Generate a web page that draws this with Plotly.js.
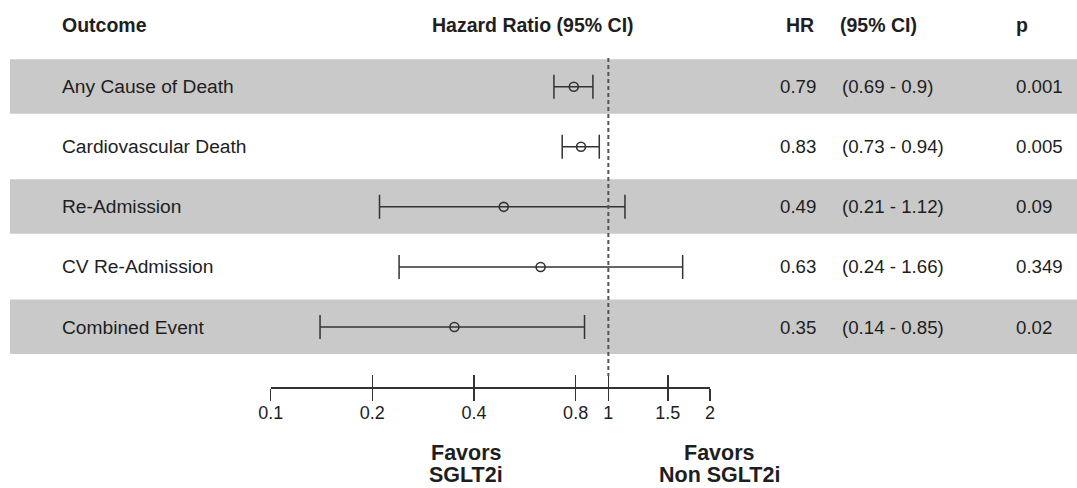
<!DOCTYPE html>
<html>
<head>
<meta charset="utf-8">
<script src="https://cdn.plot.ly/plotly-3.0.1.min.js"></script>
<style>
html,body{margin:0;padding:0;background:#fff;}
#chart{width:1077px;height:488px;}
</style>
</head>
<body>
<div id="chart"></div>
<script>
// ---- data ----
const outcomes = ["Any Cause of Death", "Cardiovascular Death", "Re-Admission", "CV Re-Admission", "Combined Event"];
const hr = [0.79, 0.83, 0.49, 0.63, 0.35];
const ciLow = [0.69, 0.73, 0.21, 0.24, 0.14];
const ciHigh = [0.9, 0.94, 1.12, 1.66, 0.85];
const pValues = ["0.001", "0.005", "0.09", "0.349", "0.02"];
const tickValues = [0.1, 0.2, 0.4, 0.8, 1, 1.5, 2];
const tickLabels = ["0.1", "0.2", "0.4", "0.8", "1", "1.5", "2"];
const headers = {outcome: "Outcome", hrci: "Hazard Ratio (95% CI)", hr: "HR", ci: "(95% CI)", p: "p"};
const favorsLeft = ["Favors", "SGLT2i"];
const favorsRight = ["Favors", "Non SGLT2i"];
const refLine = 1;

// ---- layout helpers ----
const W = 1077, H = 488;
const px = v => v / W;            // pixel x -> paper
const py = v => 1 - v / H;        // pixel y -> paper
const rowIdx = outcomes.map((_, i) => i);

// log-axis geometry: 0.1 at 270.7px, 337.65 px per decade
const x0px = 270.7, perDec = 337.65;
const xr = [-1 - x0px / perDec, -1 + (W - x0px) / perDec];
// rows: first at 86.7px, pitch 60.08px
const r0 = 86.7, pitch = 60.08;
const yr = [(H - r0) / pitch, -r0 / pitch];

const FONT = "Liberation Sans, Arial, Helvetica, sans-serif";
const txt = "#1e1e1e";

const traces = [
  {
    type: "scatter", mode: "markers",
    x: hr, y: rowIdx, xaxis: "x", yaxis: "y",
    marker: {symbol: "circle-open", size: 9, color: "#333", line: {width: 1.6, color: "#333"}},
    error_x: {
      type: "data", symmetric: false,
      array: ciHigh.map((v, i) => v - hr[i]),
      arrayminus: hr.map((v, i) => v - ciLow[i]),
      color: "#333", thickness: 1.5, width: 12
    },
    hoverinfo: "skip", showlegend: false
  },
  {type: "scatter", mode: "markers", x: [1], y: [0], xaxis: "x2", yaxis: "y",
   marker: {opacity: 0}, hoverinfo: "skip", showlegend: false},
  {type: "scatter", mode: "markers", x: [1], y: [0], xaxis: "x3", yaxis: "y",
   marker: {opacity: 0}, hoverinfo: "skip", showlegend: false}
];

const shapes = [];
rowIdx.forEach(i => {
  if (i % 2 === 0) {
    shapes.push({type: "rect", xref: "paper", yref: "y", x0: px(10), x1: 1,
      y0: i - 27.5 / pitch, y1: i + 27 / pitch,
      fillcolor: "#c9c9c9", line: {width: 0}, layer: "below"});
  }
});
shapes.push({type: "line", xref: "x", yref: "paper", x0: refLine, x1: refLine,
  y0: py(58), y1: py(376), line: {color: "#555", width: 2, dash: "4px,3px"}});

const annotations = [];
const ann = (o) => annotations.push(Object.assign({showarrow: false, xanchor: "left", yanchor: "middle"}, o));
// headers
const hf = {family: FONT, size: 19.5, color: txt};
ann({text: "<b>" + headers.outcome + "</b>", xref: "paper", yref: "paper", x: px(60), y: py(25), font: hf});
ann({text: "<b>" + headers.hrci + "</b>", xref: "paper", yref: "paper", x: px(533), y: py(25), xanchor: "center", font: hf});
ann({text: "<b>" + headers.hr + "</b>", xref: "paper", yref: "paper", x: px(816), y: py(25), xanchor: "right", font: hf});
ann({text: "<b>" + headers.ci + "</b>", xref: "paper", yref: "paper", x: px(838), y: py(25), font: hf});
ann({text: "<b>" + headers.p + "</b>", xref: "paper", yref: "paper", x: px(1014), y: py(25), font: hf});
// rows
const rf = {family: FONT, size: 19.2, color: txt};
const vf = {family: FONT, size: 18.7, color: txt};
rowIdx.forEach(i => {
  ann({text: outcomes[i], xref: "paper", yref: "y", x: px(60), y: i, font: rf});
  ann({text: String(hr[i]), xref: "paper", yref: "y", x: px(818), y: i, xanchor: "right", font: vf});
  ann({text: "(" + ciLow[i] + " - " + ciHigh[i] + ")", xref: "paper", yref: "y", x: px(840), y: i, font: vf});
  ann({text: pValues[i], xref: "paper", yref: "y", x: px(1014), y: i, font: vf});
});
// favors
const ff = {family: FONT, size: 21.5, color: txt};
favorsLeft.forEach((t, k) => ann({text: "<b>" + t + "</b>", xref: "paper", yref: "paper", x: px(466), y: py(453 + 22 * k), xanchor: "center", font: ff}));
favorsRight.forEach((t, k) => ann({text: "<b>" + t + "</b>", xref: "paper", yref: "paper", x: px(719), y: py(453 + 22 * k), xanchor: "center", font: ff}));

const axPos = py(387);
const dom2 = [px(270.7), px(710)];
const layout = {
  width: W, height: H,
  margin: {l: 0, r: 0, t: 0, b: 0},
  paper_bgcolor: "#fff", plot_bgcolor: "rgba(0,0,0,0)",
  showlegend: false,
  font: {family: FONT, color: txt},
  xaxis: {type: "log", range: xr, domain: [0, 1], visible: false, fixedrange: true},
  xaxis2: {type: "log", range: [-1, Math.log10(2)], domain: dom2,
    anchor: "free", position: axPos, side: "bottom",
    tickmode: "array", tickvals: tickValues, ticktext: tickLabels,
    ticks: "outside", ticklen: 12, tickwidth: 1.5, tickcolor: "#333",
    ticklabelstandoff: -3,
    showline: true, linecolor: "#333", linewidth: 1.5, showgrid: false, zeroline: false,
    tickfont: {family: FONT, size: 18, color: txt}},
  xaxis3: {type: "log", range: [-1, Math.log10(2)], overlaying: "x2",
    anchor: "free", position: axPos, side: "bottom",
    tickmode: "array", tickvals: tickValues,
    ticks: "inside", ticklen: 12, tickwidth: 1.5, tickcolor: "#333",
    showticklabels: false, showline: false, showgrid: false, zeroline: false},
  yaxis: {range: yr, visible: false, fixedrange: true},
  shapes: shapes,
  annotations: annotations
};

Plotly.newPlot("chart", traces, layout, {displayModeBar: false, staticPlot: true});
</script>
</body>
</html>
